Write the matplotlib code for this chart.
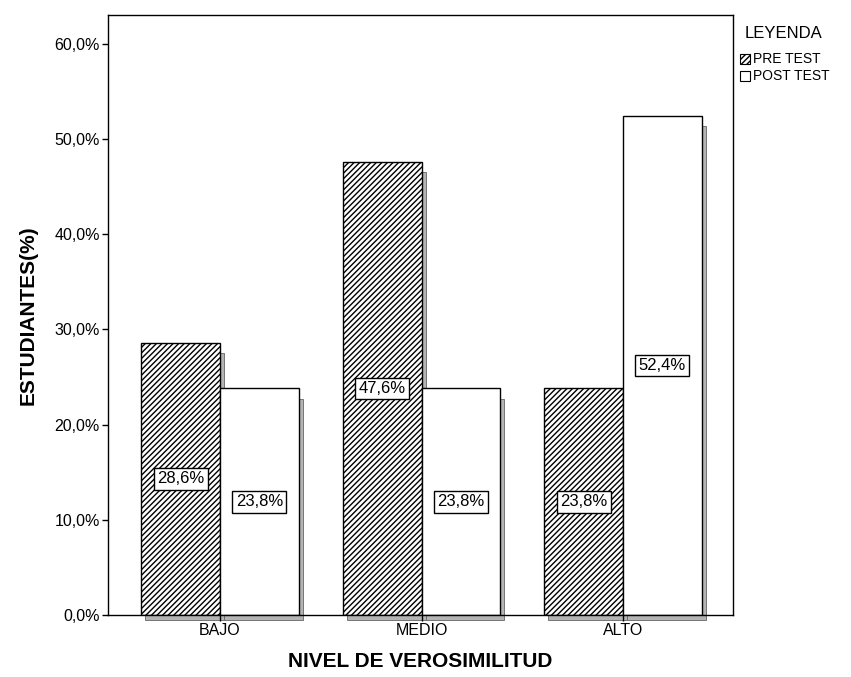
import matplotlib
matplotlib.use("Agg")
import matplotlib.pyplot as plt
from matplotlib.patches import Rectangle
import numpy as np

categories = ["BAJO", "MEDIO", "ALTO"]
pre_test = [28.6, 47.6, 23.8]
post_test = [23.8, 23.8, 52.4]
series_names = ["PRE TEST", "POST TEST"]
yticks = [0, 10, 20, 30, 40, 50, 60]

plt.rcParams['font.family'] = ['Liberation Sans', 'DejaVu Sans']
plt.rcParams['hatch.linewidth'] = 1.0

fig = plt.figure(figsize=(8.51, 6.77), dpi=100)
ax = fig.add_axes([108/851, 62/677, 625/851, 600/677])

x = np.arange(len(categories))
w = 0.39
pre_x = x - w/2
post_x = x + w/2

# shadows
for xs, vals in ((pre_x, pre_test), (post_x, post_test)):
    ax.bar(xs + 0.02, np.array(vals) - 0.6, width=w, bottom=-0.5, color='#b4b4b4',
           edgecolor='#666666', linewidth=0.6, zorder=1, clip_on=False)

ax.bar(pre_x, pre_test, width=w, color='white', edgecolor='black', hatch='//////',
       linewidth=1.0, zorder=2)
ax.bar(post_x, post_test, width=w, color='white', edgecolor='black',
       linewidth=1.0, zorder=2)

for xs, vals in ((pre_x, pre_test), (post_x, post_test)):
    for xi, v in zip(xs, vals):
        ax.text(xi, v/2, f"{v:.1f}%".replace('.', ','), ha='center', va='center',
                fontsize=12, zorder=5,
                bbox=dict(boxstyle='square,pad=0.2', facecolor='white', edgecolor='black', linewidth=1.0))

ax.set_xlim(-0.556, 2.546)
ax.set_ylim(0, 63)
ax.set_yticks(yticks)
ax.set_yticklabels([f"{t:.1f}%".replace('.', ',') for t in yticks], fontsize=11.5)
ax.set_xticks(x)
ax.set_xticklabels(categories, fontsize=11.5)
ax.tick_params(axis='both', direction='out', length=4, width=1, pad=2)
for s in ax.spines.values():
    s.set_linewidth(1.0)

ax.set_ylabel("ESTUDIANTES(%)", fontsize=15, fontweight='bold', labelpad=12)
ax.set_xlabel("NIVEL DE VEROSIMILITUD", fontsize=15, fontweight='bold', labelpad=10)

# legend
fig.text(745/851, 1 - 34/677, "LEYENDA", fontsize=12, va='center', ha='left')
sw = 10/851
sh = 10/677
for i, (name, hatch) in enumerate(zip(series_names, ['//////', None])):
    yc = 1 - (59 + i*17)/677
    r = Rectangle((740/851, yc - sh/2), sw, sh, transform=fig.transFigure,
                  facecolor='white', edgecolor='black', hatch=hatch, linewidth=0.8)
    fig.patches.append(r)
    fig.text(753/851, yc, name, fontsize=10, va='center', ha='left')

fig.savefig("out.png", dpi=100)
